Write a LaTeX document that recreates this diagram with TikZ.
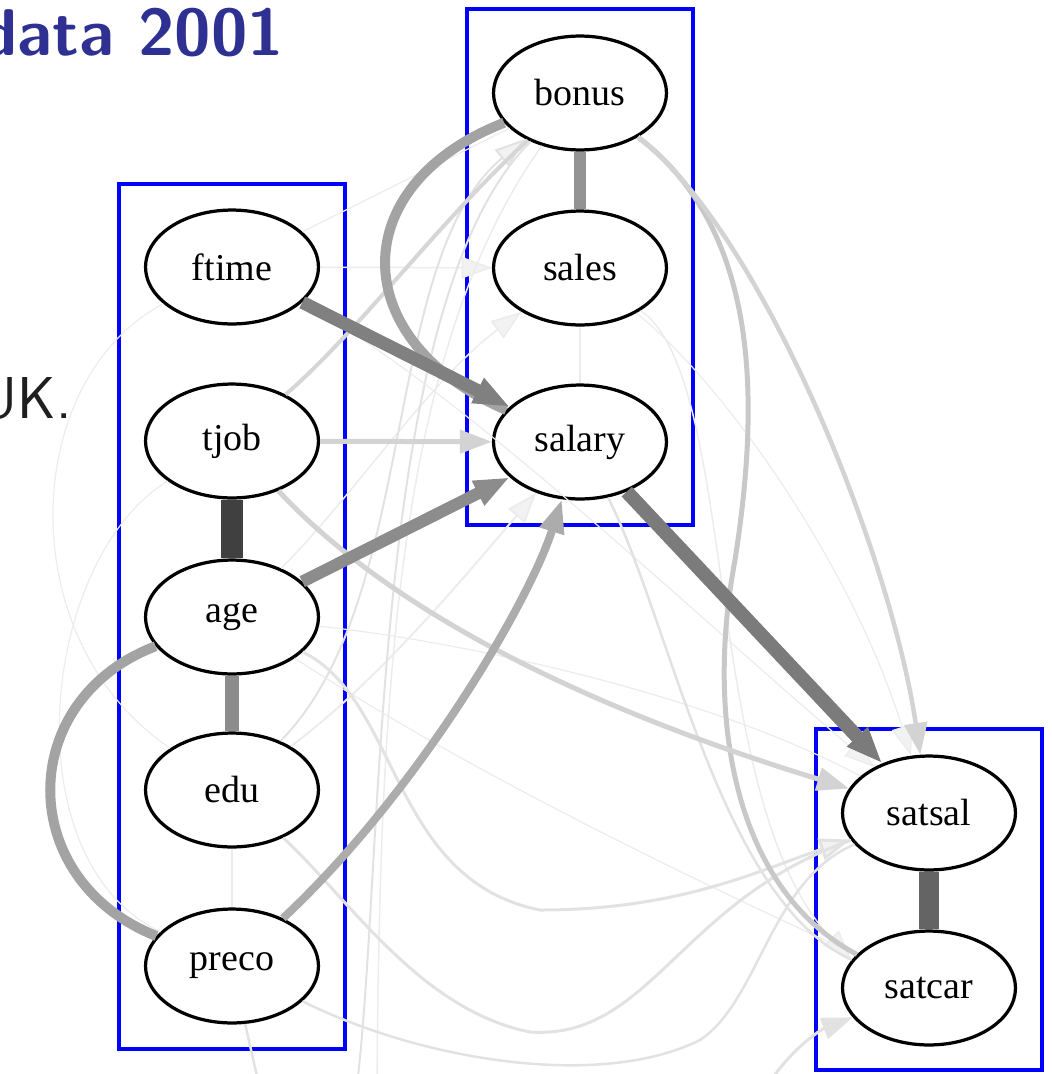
\documentclass[tikz,border=0pt]{standalone}
\usepackage{fontspec}
\setmainfont{Liberation Serif}
\usetikzlibrary{shapes.geometric,arrows.meta}

\definecolor{titleblue}{RGB}{46,49,146}
\definecolor{gDark}{HTML}{404040}
\definecolor{gSat}{HTML}{646464}
\definecolor{gSal}{HTML}{7B7B7B}
\definecolor{gFt}{HTML}{808080}
\definecolor{gAge}{HTML}{8C8C8C}
\definecolor{gBs}{HTML}{939393}
\definecolor{gArc}{HTML}{A3A3A3}
\definecolor{gPre}{HTML}{ACACAC}
\definecolor{gCar}{HTML}{C8C8C8}
\definecolor{gMid}{HTML}{D3D3D3}
\definecolor{gTb}{HTML}{D6D6D6}
\definecolor{gLt}{HTML}{E2E2E2}
\definecolor{gFaint}{HTML}{ECECEC}
\definecolor{gTip}{HTML}{F2F2F2}

\begin{document}
\begin{tikzpicture}[x=0.025cm,y=-0.025cm,
  var/.style={ellipse, draw=black, line width=2.3pt, fill=white,
    minimum width=123pt, minimum height=81pt, inner sep=0pt,
    font=\fontsize{27}{30}\selectfont},
  cluster/.style={draw=blue, line width=2.6pt},
  lw/.style={line width=#1*0.7113pt},
  tip/.style={-{Triangle[length=21pt 0.5, width=15pt 0.35]}},
  tipL/.style={-{Triangle[length=21pt 0.5, width=15pt 0.35, fill=gTip]}},
]
\useasboundingbox (0,0) rectangle (1052,1074);

% slide text
\node[anchor=base east, inner sep=0pt, text=titleblue,
  font=\fontsize{47}{50}\selectfont\sffamily\bfseries] (title) at (284,55) {data 2001};
\node[anchor=base east, inner sep=0pt, text=black!88,
  font=\fontsize{42}{45}\selectfont\sffamily] (uk) at (72,418) {UK.};

% clusters
\draw[cluster] (119,184) rectangle (345,1049);
\draw[cluster] (467,9) rectangle (693,525);
\draw[cluster] (816,729) rectangle (1042,1070);

% variables
\node[var] (bonus)  at (580,93)  {bonus};
\node[var] (sales)  at (580,268) {sales};
\node[var] (salary) at (580,442) {salary};
\node[var] (ftime)  at (232,267) {ftime};
\node[var] (tjob)   at (232,441) {tjob};
\node[var] (age)    at (232,617) {age};
\node[var] (edu)    at (232,790) {edu};
\node[var] (preco)  at (232,966) {preco};
\node[var] (satsal) at (929,813) {satsal};
\node[var] (satcar) at (929,988) {satcar};

% loose ends leaving the page
\coordinate (b1) at (357,1085);
\coordinate (b2) at (377,1085);
\coordinate (p0) at (259,1085);
\coordinate (d0) at (768,1085);

% faint links
\draw[lw=1.2, gFaint] (ftime) -- (bonus);
\draw[lw=1.5, gFaint, tipL] (ftime) -- (sales);
\draw[lw=1.2, gFaint] (sales) -- (salary);
\draw[lw=1.2, gFaint] (edu) -- (preco);
\draw[lw=1.2, gFaint] (ftime) .. controls (20,380) and (10,640) .. (edu);
\draw[lw=1.2, gFaint] (tjob) .. controls (40,560) and (10,860) .. (preco);
\draw[lw=1.5, gFaint, tipL] (age) .. controls (350,500) and (430,380) .. (sales);
\draw[lw=2, gFaint, tipL] (edu) .. controls (380,680) and (470,570) .. (salary);
\draw[lw=2, gLt, tipL] (edu) .. controls (420,600) and (380,260) .. (bonus);
\draw[lw=2, gLt] (b1) .. controls (385,850) and (370,300) .. (bonus);
\draw[lw=1.5, gFaint] (b2) .. controls (380,700) and (395,350) .. (bonus);
\draw[lw=2.5, gLt] (preco) -- (p0);
\draw[lw=1.2, gFaint, tipL] (ftime) .. controls (450,380) and (700,620) .. (satsal);
\draw[lw=1.2, gFaint] (age) .. controls (450,640) and (700,690) .. (satsal);
\draw[lw=1.2, gFaint, tipL] (sales) .. controls (720,380) and (850,560) .. (satsal);
\draw[lw=1.5, gFaint, tipL] (sales) .. controls (740,380) and (700,800) .. (satcar.160);
\draw[lw=1.2, gFaint] (age) .. controls (450,760) and (650,860) .. (satcar);
\draw[lw=2.5, gLt] (salary) .. controls (670,620) and (720,900) .. (satcar.160);
\draw[lw=3, gLt, tipL] (age) .. controls (400,700) and (390,880) .. (540,910)
  .. controls (680,910) and (760,870) .. (satsal);
\draw[lw=3, gLt] (edu) .. controls (350,900) and (420,1010) .. (530,1032)
  .. controls (650,1040) and (680,900) .. (satsal);
\draw[lw=2.5, gLt] (preco) .. controls (420,1060) and (600,1090) .. (700,1040)
  .. controls (760,1000) and (770,880) .. (satsal);
\draw[lw=3, gLt, tip] (d0) .. controls (790,1050) and (820,1030) .. (satcar);

% light links
\draw[lw=4, gTb] (tjob) .. controls (360,330) and (440,220) .. (bonus);
\draw[lw=5, gCar] (bonus) .. controls (760,230) and (760,400) .. (735,560)
  .. controls (705,720) and (735,890) .. (satcar.155);
\draw[lw=4.5, gMid, tip] (bonus) .. controls (760,230) and (890,550) .. (satsal);
\draw[lw=5, gMid, tip] (tjob) .. controls (380,600) and (560,700) .. (satsal);
\draw[lw=5, gMid, tip] (tjob) -- (salary);

% medium links
\draw[lw=8, gPre, tip] (preco) .. controls (420,790) and (530,600) .. (salary);
\draw[lw=10, gArc] (age) .. controls (15,700) and (15,880) .. (preco);
\draw[lw=10, gArc] (bonus) .. controls (345,185) and (345,340) .. (salary);

% strong links
\draw[lw=12, gAge, tip] (age) -- (salary);
\draw[lw=13, gFt, tip] (ftime) -- (salary);
\draw[lw=14, gSal, tip] (salary) -- (satsal);
\draw[lw=12, gBs] (bonus) -- (sales);
\draw[lw=14, gAge] (age) -- (edu);
\draw[lw=22, gDark] (tjob) -- (age);
\draw[lw=20, gSat] (satsal) -- (satcar);
\end{tikzpicture}
\end{document}
